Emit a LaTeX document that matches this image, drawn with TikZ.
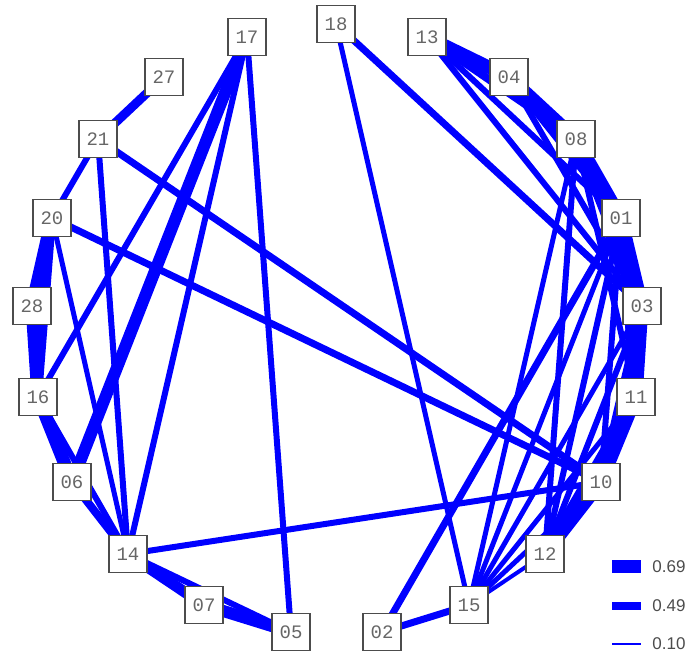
\documentclass[tikz,border=0pt]{standalone}
\usepackage{fontspec}
\newfontfamily\labfont{Liberation Mono}
\newfontfamily\legfont{Liberation Sans}
\usetikzlibrary{backgrounds}
\tikzset{
  vbox/.style={draw=black!70, line width=0.7pt, fill=white, minimum width=19pt,
    minimum height=18.5pt, inner sep=0pt, text=black!60,
    font=\labfont\fontsize{9.5}{10}\selectfont},
  edge/.style={blue},
  legtext/.style={anchor=west, inner sep=0pt, text=black!70,
    font=\legfont\fontsize{8.5}{10}\selectfont}
}
\begin{document}
\begin{tikzpicture}[x=0.5pt,y=-0.5pt]
  \useasboundingbox (0,0) rectangle (691,656);
  \foreach \v/\px/\py in {17/247/37,18/336/24,13/427/37,04/509/77,27/164/77,
    21/98/139,08/576/139,20/52/218,01/621/218,28/32/306,03/642/306,
    16/38/397,11/636/397,06/72/482,10/601/482,14/128/554,12/545/554,
    07/204/605,15/469/605,05/291/632,02/382/632}{
    \node[vbox] (n\v) at (\px,\py) {\v};
  }
  \begin{scope}[on background layer]
    \foreach \a/\b/\w in {27/21/9,21/20/6,21/14/6,21/10/7,20/28/13,20/16/8,
      20/14/5,20/10/7,28/16/13,16/06/13,16/14/6,06/14/8,17/16/6,17/06/12,
      17/14/6,17/05/6,14/07/11,14/05/6,07/05/12,14/10/6,
      18/15/5,18/03/7,13/04/13,13/08/8,13/01/6,13/03/6,
      04/08/13,04/01/8,04/03/6,08/01/13,08/03/10,08/11/6,08/12/6,08/15/5,
      01/03/13,01/11/10,01/10/6,01/12/6,01/15/5,01/02/7,
      03/11/13,03/10/8,03/12/6,03/15/5,11/10/13,11/12/10,11/15/5,
      10/12/13,10/15/5,12/15/4,15/02/7}{
      \draw[edge, line width=0.5*\w pt] (n\a.center) -- (n\b.center);
    }
  \end{scope}
  \foreach \k/\ly/\w/\lab in {1/567/13/0.69,2/606/8/0.49,3/644/2/0.10}{
    \coordinate (k\k a) at (612,\ly);
    \coordinate (k\k b) at (641,\ly);
    \draw[edge, line width=0.5*\w pt] (k\k a) -- (k\k b);
    \node[legtext] (t\k) at (652,\ly) {\lab};
  }
\end{tikzpicture}
\end{document}
